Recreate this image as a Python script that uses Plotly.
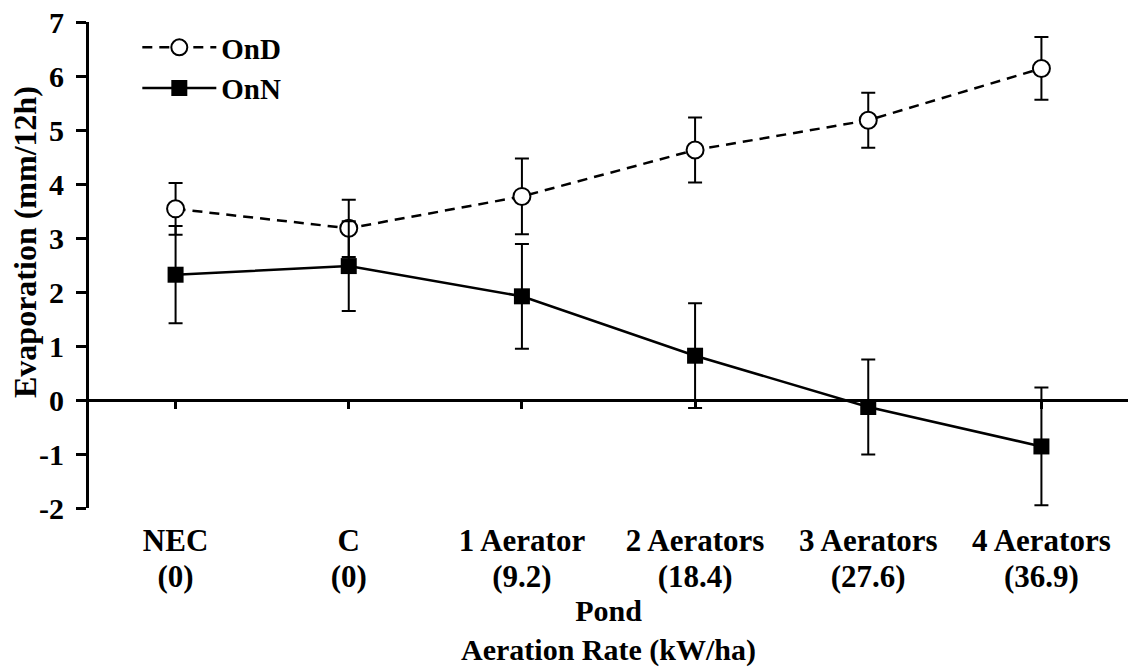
import plotly.graph_objects as go

# Pond treatments and aeration rates (kW/ha)
ponds = ["NEC", "C", "1 Aerator", "2 Aerators", "3 Aerators", "4 Aerators"]
rates = ["(0)", "(0)", "(9.2)", "(18.4)", "(27.6)", "(36.9)"]

# Evaporation (mm/12h), mean and error
ond_mean = [3.54, 3.18, 3.77, 4.63, 5.18, 6.14]
ond_err = [0.48, 0.53, 0.70, 0.60, 0.51, 0.58]
onn_mean = [2.32, 2.48, 1.92, 0.82, -0.13, -0.86]
onn_err = [0.90, 0.83, 0.97, 0.97, 0.88, 1.09]

y_ticks = [-2, -1, 0, 1, 2, 3, 4, 5, 6, 7]
y_tick_text = ["-2", "-1", "0", "1", "2", "3", "4", "5", "6", "7"]

x_idx = list(range(len(ponds)))

FONT = "Liberation Serif, Times New Roman, serif"
Y_MIN, Y_MAX = -2, 7
X_RANGE = [-0.5, 5.5]


def bold(size):
    return dict(family=FONT, size=size, color="black", weight="bold")


fig = go.Figure()

fig.add_trace(go.Scatter(
    x=x_idx, y=ond_mean, name="OnD", mode="lines+markers",
    line=dict(color="black", width=2.5, dash="10px,7px"),
    marker=dict(symbol="circle", size=17, color="white",
                line=dict(color="black", width=2)),
    error_y=dict(type="data", array=ond_err, visible=True,
                 color="black", thickness=2, width=7),
))
fig.add_trace(go.Scatter(
    x=x_idx, y=onn_mean, name="OnN", mode="lines+markers",
    line=dict(color="black", width=2.5),
    marker=dict(symbol="square", size=16, color="black",
                line=dict(color="black", width=0)),
    error_y=dict(type="data", array=onn_err, visible=True,
                 color="black", thickness=2, width=7),
))

# Invisible helpers so the extra category axes get drawn
fig.add_trace(go.Scatter(x=[0], y=[0], xaxis="x2", mode="markers",
                         marker=dict(opacity=0), showlegend=False,
                         hoverinfo="skip"))
fig.add_trace(go.Scatter(x=[0], y=[0], xaxis="x3", mode="markers",
                         marker=dict(opacity=0), showlegend=False,
                         hoverinfo="skip"))

zero_pos = (0 - Y_MIN) / (Y_MAX - Y_MIN)

fig.update_layout(
    width=1128, height=668,
    margin=dict(l=89, r=0, t=22, b=160),
    plot_bgcolor="white", paper_bgcolor="white",
    font=bold(31),
    showlegend=True,
    legend=dict(x=0.0465, y=1.0, xanchor="left", yanchor="top",
                bgcolor="rgba(0,0,0,0)", itemwidth=74,
                font=bold(29)),
    # first line of the category labels: pond names
    xaxis=dict(
        range=X_RANGE, tickmode="array", tickvals=x_idx, ticktext=ponds,
        showline=False, ticks="", showgrid=False, zeroline=False,
        ticklabelstandoff=11, tickfont=bold(31),
    ),
    # horizontal axis line through y = 0 with ticks at each pond
    xaxis2=dict(
        overlaying="x", anchor="free", position=zero_pos, matches="x",
        range=X_RANGE, tickmode="array", tickvals=x_idx,
        showticklabels=False, showline=True, linecolor="black", linewidth=3,
        ticks="outside", ticklen=7, tickwidth=3, tickcolor="black",
        showgrid=False, zeroline=False,
    ),
    # second line of the category labels: aeration rates, plus axis title
    xaxis3=dict(
        overlaying="x", anchor="free", position=0, matches="x",
        range=X_RANGE, tickmode="array", tickvals=x_idx, ticktext=rates,
        showline=False, ticks="", showgrid=False, zeroline=False,
        ticklabelstandoff=47, tickfont=bold(31),
        title=dict(text="Pond<br>Aeration Rate (kW/ha)", standoff=0,
                   font=bold(30)),
    ),
    yaxis=dict(
        range=[Y_MIN, Y_MAX], tickmode="array", tickvals=y_ticks,
        ticktext=y_tick_text, showline=True, linecolor="black",
        linewidth=3, ticks="outside", ticklen=10, tickwidth=3,
        tickcolor="black", showgrid=False, zeroline=False,
        ticklabelstandoff=6,
        tickfont=bold(30),
    ),
    annotations=[dict(
        text="Evaporation (mm/12h)", textangle=-90, showarrow=False,
        xref="paper", yref="paper",
        x=(25 - 89) / 1039, y=(668 - 160 - 242) / 486,
        xanchor="center", yanchor="middle",
        font=bold(32),
    )],
)

fig.write_html("out.html")
